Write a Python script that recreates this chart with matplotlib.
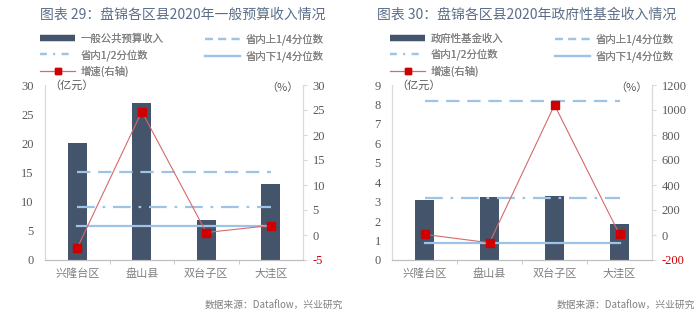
import matplotlib
matplotlib.use("Agg")
import matplotlib.pyplot as plt
from matplotlib.lines import Line2D

CJK = ["Noto Sans CJK SC", "DejaVu Sans"]
SERIF = ["Liberation Serif", "DejaVu Serif"]

CATEGORIES = ["兴隆台区", "盘山县", "双台子区", "大洼区"]

BUDGET = [20.0, 26.9, 6.8, 13.1]
BUDGET_GROWTH = [-2.6, 24.7, 0.5, 1.9]
BUDGET_QUANTILES = [15.1, 9.1, 5.9]  # upper quartile, median, lower quartile

FUND = [3.1, 3.25, 3.3, 1.85]
FUND_GROWTH = [5, -62, 1040, 5]
FUND_QUANTILES = [8.18, 3.2, 0.86]

BAR_COLOR = "#44546A"
QUANT_COLOR = "#9DC3E6"
RED = "#D00000"
RED_LINE = "#D66A6A"
TEXT_GRAY = "#7F7F7F"
TITLE_COLOR = "#5B6E88"
SPINE_GRAY = "#D9D9D9"

LEGEND_KW = dict(loc="upper left", frameon=False,
                 prop={"family": CJK, "size": 7.5}, labelcolor=TEXT_GRAY,
                 handlelength=3.4, handletextpad=0.5,
                 labelspacing=0.5, borderpad=0, borderaxespad=0)


def draw_panel(fig, rect, title, title_x, bar_label, values, growth, quants,
               left_ticks, right_ticks, legend_x):
    ax = fig.add_axes(rect)
    x = list(range(len(CATEGORIES)))

    ax.bar(x, values, width=0.3, color=BAR_COLOR, zorder=2)
    upper, median, lower = quants
    ax.plot([x[0], x[-1]], [upper, upper], color=QUANT_COLOR, lw=1.6,
            dashes=(6, 3.5), zorder=3)
    ax.plot([x[0], x[-1]], [median, median], color=QUANT_COLOR, lw=1.6,
            dashes=(8, 3.5, 1.2, 3.5), zorder=3)
    ax.plot([x[0], x[-1]], [lower, lower], color=QUANT_COLOR, lw=1.6, zorder=3)

    ax.set_xlim(-0.5, len(CATEGORIES) - 0.5)
    ax.set_ylim(left_ticks[0], left_ticks[-1])
    ax.set_yticks(left_ticks)
    ax.set_yticklabels([str(t) for t in left_ticks], family=SERIF,
                       fontsize=9, color="#595959")
    ax.set_xticks(x)
    ax.set_xticklabels(CATEGORIES, family=CJK, fontsize=8, color=TEXT_GRAY)
    ax.set_xticks([i + 0.5 for i in x[:-1]], minor=True)
    ax.tick_params(axis="x", which="major", length=0, pad=6)
    ax.tick_params(axis="x", which="minor", length=3, color="#BFBFBF")
    ax.tick_params(axis="y", length=0, pad=8)

    ax2 = ax.twinx()
    ax2.plot(x, growth, color=RED_LINE, lw=0.8, marker="s", markersize=6,
             markerfacecolor=RED, markeredgecolor=RED, zorder=4)
    ax2.set_ylim(right_ticks[0], right_ticks[-1])
    ax2.set_yticks(right_ticks)
    ax2.set_yticklabels([str(t) for t in right_ticks], family=SERIF,
                        fontsize=9, color="#595959")
    ax2.get_yticklabels()[0].set_color(RED)
    ax2.tick_params(axis="y", length=3, color=SPINE_GRAY, pad=4)

    for a in (ax, ax2):
        a.spines["top"].set_visible(False)
        a.spines["left"].set_color(SPINE_GRAY)
        a.spines["right"].set_color(SPINE_GRAY)
        a.spines["bottom"].set_color("#BFBFBF")
        a.patch.set_visible(False)

    ax.text(0.015, 0.995, "（亿元）", transform=ax.transAxes, family=CJK,
            fontsize=8, color="#595959", ha="left", va="center")
    ax.text(0.985, 0.985, "（%）", transform=ax.transAxes, family=CJK,
            fontsize=8, color="#595959", ha="right", va="center")

    fig.text(title_x, 0.955, title, family=CJK, fontsize=10,
             color=TITLE_COLOR, ha="left", va="center")

    # legend: two independent columns so both panels line up the same way
    col1 = [
        (Line2D([], [], color=BAR_COLOR, lw=4.5, solid_capstyle="butt"), bar_label),
        (Line2D([], [], color=QUANT_COLOR, lw=1.6, dashes=(3, 3, 0.8, 3)), "省内1/2分位数"),
        (Line2D([], [], color=RED_LINE, lw=0.8, marker="s", markersize=5,
                markerfacecolor=RED, markeredgecolor=RED), "增速(右轴)"),
    ]
    col2 = [
        (Line2D([], [], color=QUANT_COLOR, lw=1.6, dashes=(3.5, 2.5)), "省内上1/4分位数"),
        (Line2D([], [], color=QUANT_COLOR, lw=1.6), "省内下1/4分位数"),
    ]
    for entries, lx in ((col1, legend_x), (col2, legend_x + 165 / 700)):
        h, l = zip(*entries)
        leg = fig.legend(h, l, bbox_to_anchor=(lx, 0.898), **LEGEND_KW)
        fig.add_artist(leg)
    return ax, ax2


fig = plt.figure(figsize=(7.0, 3.29), dpi=100)

draw_panel(fig, [45 / 700, 69 / 329, 258 / 700, 175 / 329],
           "图表 29：盘锦各区县2020年一般预算收入情况", 40 / 700,
           "一般公共预算收入", BUDGET, BUDGET_GROWTH, BUDGET_QUANTILES,
           list(range(0, 31, 5)), list(range(-5, 31, 5)), 40 / 700)

draw_panel(fig, [392 / 700, 69 / 329, 260 / 700, 175 / 329],
           "图表 30：盘锦各区县2020年政府性基金收入情况", 377 / 700,
           "政府性基金收入", FUND, FUND_GROWTH, FUND_QUANTILES,
           list(range(0, 10)), list(range(-200, 1201, 200)), 390 / 700)

fig.text(0.49, 0.07, "数据来源：Dataflow，兴业研究", family=CJK,
         fontsize=7, color=TEXT_GRAY, ha="right", va="center")
fig.text(0.993, 0.07, "数据来源：Dataflow，兴业研究", family=CJK,
         fontsize=7, color=TEXT_GRAY, ha="right", va="center")

fig.savefig("out.png", dpi=100)
